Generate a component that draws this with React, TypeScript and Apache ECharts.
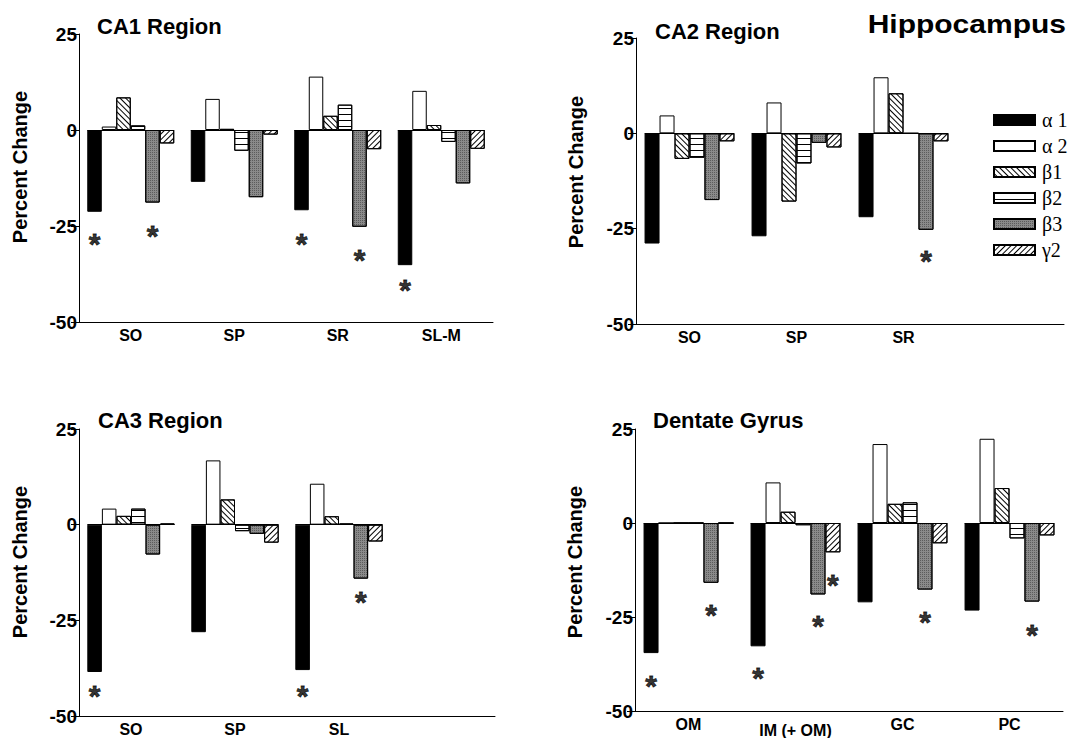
import React, { useEffect, useRef } from "react";
import * as echarts from "echarts";

// ---------- data ----------
const SUBUNITS = ["α 1", "α 2", "β1", "β2", "β3", "γ2"];

const CA1_CATS = ["SO", "SP", "SR", "SL-M"];
const CA1_A1 = [-21.3, -13.5, -20.9, -35.2];
const CA1_A2 = [0.9, 8.1, 13.9, 10.2];
const CA1_B1 = [8.5, 0.3, 3.7, 1.3];
const CA1_B2 = [1.2, -5.4, 6.6, -3.1];
const CA1_B3 = [-18.9, -17.5, -25.2, -13.9];
const CA1_G2 = [-3.5, -1.2, -5.0, -4.9];
// [category index, subunit index, value where the asterisk sits]
const CA1_STARS = [[0, 0, -28], [0, 4, -25.9], [2, 0, -28], [2, 4, -32.1], [3, 0, -39.9]];

const CA2_CATS = ["SO", "SP", "SR", ""];
const CA2_A1 = [-28.9, -27.0, -22.0];
const CA2_A2 = [4.7, 8.1, 14.7];
const CA2_B1 = [-6.7, -17.9, 10.5];
const CA2_B2 = [-6.4, -7.9, 0];
const CA2_B3 = [-17.5, -2.5, -25.3];
const CA2_G2 = [-2.1, -3.7, -2.1];
const CA2_STARS = [[2, 4, -31.9]];

const CA3_CATS = ["SO", "SP", "SL", ""];
const CA3_A1 = [-38.5, -28.1, -38.0];
const CA3_A2 = [4.2, 16.8, 10.7];
const CA3_B1 = [2.3, 6.6, 2.2];
const CA3_B2 = [4.2, -1.7, 0.3];
const CA3_B3 = [-7.8, -2.4, -14.1];
const CA3_G2 = [0.3, -4.7, -4.4];
const CA3_STARS = [[0, 0, -43], [2, 0, -43], [2, 4, -18.4]];

const DG_CATS = ["OM", "IM (+ OM)", "GC", "PC"];
const DG_A1 = [-34.6, -32.8, -21.1, -23.3];
const DG_A2 = [0, 10.8, 21.0, 22.4];
const DG_B1 = [0, 3.0, 5.1, 9.3];
const DG_B2 = [0, -0.6, 5.5, -4.1];
const DG_B3 = [-15.9, -19.0, -17.7, -20.9];
const DG_G2 = [0, -7.8, -5.4, -3.3];
const DG_STARS = [[0, 0, -41.5], [0, 4, -22.8], [1, 0, -39.6], [1, 4, -25.7], [1, 5, -14.8], [2, 4, -24.5], [3, 4, -28.0]];

const Y_TICKS = { min: -50, max: 25, interval: 25 };

// ---------- styles ----------
const SANS = "'Liberation Sans', Arial, sans-serif";
const SERIF = "'Liberation Serif', 'Times New Roman', serif";
const GAP_FRAC = 0.16;
const BAR_FRAC = (1 - GAP_FRAC) / 6;

const hatch = (rotation: number, gap: number) => ({
  symbol: "rect",
  symbolSize: 1,
  dashArrayX: [1, 0],
  dashArrayY: [1, gap],
  rotation,
  color: "#000",
});

const STYLES: any[] = [
  { color: "#000" },
  { color: "#fff" },
  { color: "#fff", decal: hatch(Math.PI / 4, 3) },
  { color: "#fff", decal: hatch(0, 5) },
  {
    color: "#8a8a8a",
    decal: { symbol: "rect", symbolSize: 1, dashArrayX: [1, 1], dashArrayY: [1, 1], color: "#5c5c5c" },
  },
  { color: "#fff", decal: hatch(-Math.PI / 4, 3) },
];

const PANELS = [
  {
    cats: CA1_CATS,
    values: [CA1_A1, CA1_A2, CA1_B1, CA1_B2, CA1_B3, CA1_G2],
    stars: CA1_STARS,
    grid: { left: 79, top: 34, width: 414, height: 288 },
  },
  {
    cats: CA2_CATS,
    values: [CA2_A1, CA2_A2, CA2_B1, CA2_B2, CA2_B3, CA2_G2],
    stars: CA2_STARS,
    grid: { left: 636, top: 38, width: 428, height: 286 },
  },
  {
    cats: CA3_CATS,
    values: [CA3_A1, CA3_A2, CA3_B1, CA3_B2, CA3_B3, CA3_G2],
    stars: CA3_STARS,
    grid: { left: 79, top: 429, width: 416, height: 287 },
  },
  {
    cats: DG_CATS,
    values: [DG_A1, DG_A2, DG_B1, DG_B2, DG_B3, DG_G2],
    stars: DG_STARS,
    grid: { left: 635, top: 429, width: 428, height: 287 },
  },
];

const TITLES = [
  { text: "CA1 Region", x: 97, y: 26 },
  { text: "CA2 Region", x: 655, y: 31 },
  { text: "CA3 Region", x: 98, y: 420 },
  { text: "Dentate Gyrus", x: 653, y: 420 },
];
const YNAMES = [
  { x: 20, y: 167 },
  { x: 576, y: 172 },
  { x: 20, y: 562 },
  { x: 575, y: 562 },
];

function buildOption() {
  const grid: any[] = [];
  const xAxis: any[] = [];
  const yAxis: any[] = [];
  const series: any[] = [];

  PANELS.forEach((p, i) => {
    grid.push({ ...p.grid, containLabel: false });
    xAxis.push({
      type: "category",
      gridIndex: i,
      data: p.cats.map((c) =>
        c === "IM (+ OM)" ? { value: c, textStyle: { padding: [6, 0, 0, 0] } } : c
      ),
      axisLine: { show: true, onZero: false, lineStyle: { color: "#000", width: 1 } },
      axisTick: { show: false },
      axisLabel: {
        color: "#000",
        fontFamily: SANS,
        fontWeight: "bold",
        fontSize: 16,
        margin: 5,
        interval: 0,
      },
      splitLine: { show: false },
    });
    xAxis.push({ type: "value", gridIndex: i, min: 0, max: 4, show: false });
    yAxis.push({
      type: "value",
      gridIndex: i,
      ...Y_TICKS,
      axisLine: { show: true, onZero: false, lineStyle: { color: "#000", width: 1 } },
      axisTick: { show: true, length: 8, lineStyle: { color: "#000" } },
      axisLabel: {
        color: "#000",
        fontFamily: SANS,
        fontWeight: "bold",
        fontSize: 19,
        margin: 2,
      },
      splitLine: { show: false },
    });

    SUBUNITS.forEach((name, s) => {
      series.push({
        type: "bar",
        name,
        xAxisIndex: 2 * i,
        yAxisIndex: i,
        data: p.values[s],
        barGap: "0%",
        barCategoryGap: GAP_FRAC * 100 + "%",
        itemStyle: { ...STYLES[s], borderColor: "#000", borderWidth: 1 },
        emphasis: { disabled: true },
      });
    });

    const segs = p.cats
      .map((c, ci) => (c ? [{ coord: [ci + GAP_FRAC / 2, 0] }, { coord: [ci + 1 - GAP_FRAC / 2, 0] }] : null))
      .filter(Boolean);

    series.push({
      type: "scatter",
      name: "sig" + i,
      xAxisIndex: 2 * i + 1,
      yAxisIndex: i,
      data: p.stars.map(([c, s, v]) => [c + 0.5 + (s - 2.5) * BAR_FRAC, v]),
      symbolSize: 1,
      itemStyle: { color: "rgba(0,0,0,0)" },
      label: {
        show: true,
        formatter: "*",
        position: "inside",
        color: "#000",
        fontFamily: SANS,
        fontWeight: "bold",
        fontSize: 30,
        textBorderColor: "#000",
        textBorderWidth: 0.8,
        offset: [0, 6],
      },
      emphasis: { disabled: true },
      markLine: {
        silent: true,
        symbol: "none",
        label: { show: false },
        lineStyle: { color: "#000", width: 1, type: "solid" },
        data: segs,
      },
      z: 5,
    });
  });

  const graphic: any[] = [];
  TITLES.forEach((t) =>
    graphic.push({
      type: "text",
      x: t.x,
      y: t.y,
      style: {
        text: t.text,
        fill: "#000",
        font: `bold 22px ${SANS}`,
        textAlign: "left",
        textVerticalAlign: "middle",
      },
    })
  );
  YNAMES.forEach((t) =>
    graphic.push({
      type: "text",
      x: t.x,
      y: t.y,
      rotation: Math.PI / 2,
      style: {
        text: "Percent Change",
        fill: "#000",
        font: `bold 20px ${SANS}`,
        textAlign: "center",
        textVerticalAlign: "middle",
      },
    })
  );
  graphic.push({
    type: "text",
    x: 1066,
    y: 24,
    scaleX: 1.2,
    style: {
      text: "Hippocampus",
      fill: "#000",
      font: `bold 25px ${SANS}`,
      textAlign: "right",
      textVerticalAlign: "middle",
    },
  });

  return {
    animation: false,
    backgroundColor: "#fff",
    grid,
    xAxis,
    yAxis,
    series,
    graphic,
    legend: {
      data: SUBUNITS,
      orient: "vertical",
      left: 993,
      top: 110,
      itemWidth: 41,
      itemHeight: 10,
      itemGap: 6,
      padding: 0,
      selectedMode: false,
      icon: "rect",
      textStyle: { fontFamily: SERIF, fontSize: 20, color: "#000", padding: [0, 0, 0, 2] },
    },
  };
}

export default function App() {
  const ref = useRef<HTMLDivElement>(null);
  useEffect(() => {
    if (!ref.current) return;
    const chart = echarts.init(ref.current, undefined, { renderer: "svg" });
    chart.setOption(buildOption() as any);
    return () => chart.dispose();
  }, []);
  return (
    <div
      ref={ref}
      style={{ position: "fixed", left: 0, top: 0, width: 1069, height: 738, background: "#fff" }}
    />
  );
}
